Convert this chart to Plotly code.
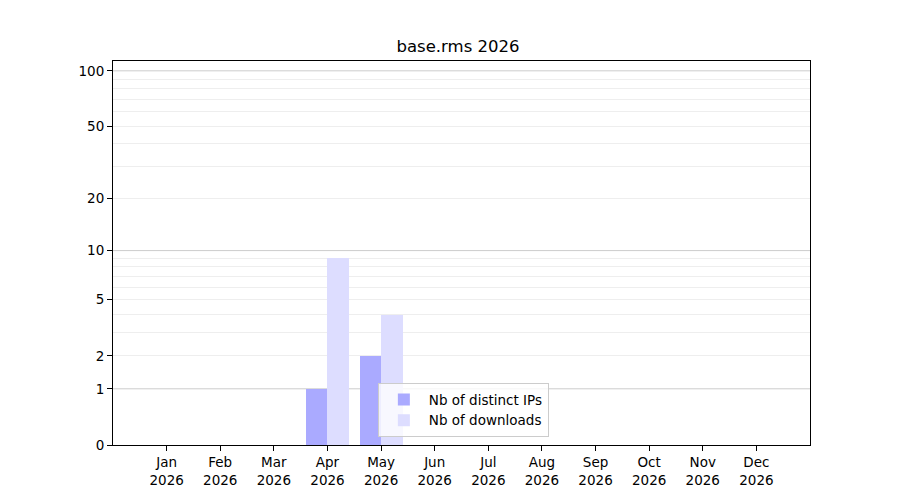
import numpy as np
import plotly.graph_objects as go

months = ["Jan", "Feb", "Mar", "Apr", "May", "Jun", "Jul", "Aug", "Sep", "Oct", "Nov", "Dec"]
year = "2026"
distinct_ips = [0, 0, 0, 1, 2, 0, 0, 0, 0, 0, 0, 0]
downloads = [0, 0, 0, 9, 4, 0, 0, 0, 0, 0, 0, 0]
y_ticks = [0, 1, 2, 5, 10, 20, 50, 100]
major_grid = [1, 10, 100]
minor_grid = [2, 3, 4, 5, 6, 7, 8, 9, 20, 30, 40, 50, 60, 70, 80, 90]


# log(1 + y) scale, as in the original symlog-like axis
def tr(v):
    return np.log10(1 + np.asarray(v, dtype=float))


x = list(range(len(months)))
font = "DejaVu Sans"

fig = go.Figure()
fig.add_trace(go.Bar(x=x, y=tr(distinct_ips), name="Nb of distinct IPs",
                     width=0.4, offset=-0.4, marker=dict(color="#aaaaff", line_width=0)))
fig.add_trace(go.Bar(x=x, y=tr(downloads), name="Nb of downloads",
                     width=0.4, offset=0, marker=dict(color="#ddddff", line_width=0)))

# major grid lines at the decades
for v in major_grid:
    fig.add_shape(type="line", xref="paper", x0=0, x1=1, yref="y", y0=tr(v), y1=tr(v),
                  line=dict(color="#cccccc", width=1), layer="below")

# the page adds an 8px body margin, so margins are shifted to compensate
fig.update_layout(
    width=900, height=500,
    margin=dict(l=105, r=98, t=53, b=63),
    paper_bgcolor="white", plot_bgcolor="white",
    font=dict(family=font, size=13, color="black"),
    title=dict(text="base.rms " + year, x=0.5, xanchor="center", y=0.924, yanchor="middle",
               font=dict(size=16.5, color="black")),
    showlegend=True,
    legend=dict(x=0.38, y=0.02, xanchor="left", yanchor="bottom",
                bgcolor="rgba(255,255,255,0.8)", bordercolor="#cccccc", borderwidth=1,
                font=dict(size=13.5), traceorder="normal", tracegroupgap=0,
                itemwidth=40),
    bargap=0,
)
fig.update_xaxes(
    range=[-1, 12], tickvals=x, ticktext=[m + "<br>" + year for m in months],
    ticks="outside", ticklen=5, tickcolor="black", showgrid=False, zeroline=False,
    showline=True, linecolor="black", linewidth=1, mirror=True,
    tickfont=dict(size=13.5),
)
fig.update_yaxes(
    range=[0, float(tr(113))], tickvals=tr(y_ticks), ticktext=[str(v) for v in y_ticks],
    ticks="outside", ticklen=5, tickcolor="black", showgrid=False, zeroline=False,
    showline=True, linecolor="black", linewidth=1, mirror=True,
    tickfont=dict(size=13.5),
    minor=dict(tickvals=tr(minor_grid), showgrid=True, gridcolor="#eeeeee", gridwidth=1, ticks=""),
)

fig.write_html("out.html")
